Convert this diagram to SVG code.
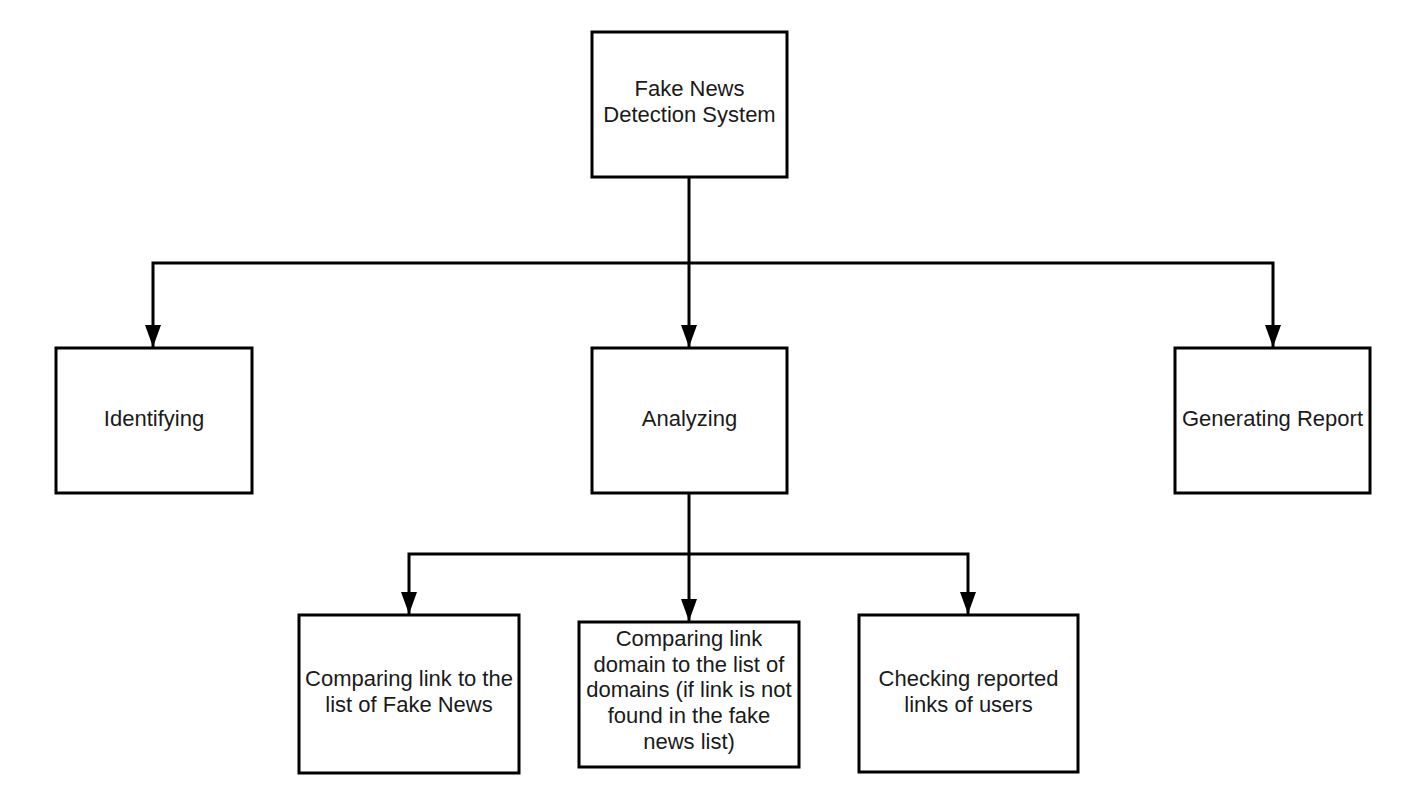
<svg xmlns="http://www.w3.org/2000/svg" width="1428" height="810" viewBox="0 0 1428 810">
<style>
.box{fill:#fff;stroke:#000;stroke-width:3}
.lbl{font-family:"Liberation Sans",Arial,sans-serif;font-size:22px;fill:#1a1a1a;text-anchor:middle}
.wire{fill:none;stroke:#000;stroke-width:3}
</style>
<defs>
<marker id="arr" viewBox="0 0 22 16" refX="22" refY="8" markerWidth="22" markerHeight="16" markerUnits="userSpaceOnUse" orient="auto">
<path d="M0,0 L22,8 L0,16 Z" fill="#000"/>
</marker>
</defs>
<rect width="1428" height="810" fill="#fff"/>
<g id="connectors">
<path class="wire" d="M689,177 V263"/>
<path class="wire" d="M689,263 H153 V347" marker-end="url(#arr)"/>
<path class="wire" d="M689,263 V347" marker-end="url(#arr)"/>
<path class="wire" d="M689,263 H1273 V347" marker-end="url(#arr)"/>
<path class="wire" d="M689,493 V554"/>
<path class="wire" d="M689,554 H409 V614" marker-end="url(#arr)"/>
<path class="wire" d="M689,554 V621" marker-end="url(#arr)"/>
<path class="wire" d="M689,554 H968 V614" marker-end="url(#arr)"/>
</g>
<g id="root">
<rect class="box" x="592" y="32" width="195" height="145"/>
<text class="lbl" x="689.5" y="96">Fake News</text>
<text class="lbl" x="689.5" y="122">Detection System</text>
</g>
<g id="identifying">
<rect class="box" x="56" y="348" width="196" height="145"/>
<text class="lbl" x="154" y="426">Identifying</text>
</g>
<g id="analyzing">
<rect class="box" x="592" y="348" width="195" height="145"/>
<text class="lbl" x="689.5" y="426">Analyzing</text>
</g>
<g id="report">
<rect class="box" x="1175" y="348" width="195" height="145"/>
<text class="lbl" x="1272.5" y="426">Generating Report</text>
</g>
<g id="compare-list">
<rect class="box" x="299" y="615" width="220" height="158"/>
<text class="lbl" x="409" y="686">Comparing link to the</text>
<text class="lbl" x="409" y="712">list of Fake News</text>
</g>
<g id="compare-domain">
<rect class="box" x="579" y="622" width="220" height="145"/>
<text class="lbl" x="689" y="646">Comparing link</text>
<text class="lbl" x="689" y="672">domain to the list of</text>
<text class="lbl" x="689" y="697">domains (if link is not</text>
<text class="lbl" x="689" y="723">found in the fake</text>
<text class="lbl" x="689" y="749">news list)</text>
</g>
<g id="checking">
<rect class="box" x="859" y="615" width="219" height="157"/>
<text class="lbl" x="968.5" y="686">Checking reported</text>
<text class="lbl" x="968.5" y="712">links of users</text>
</g>
</svg>
